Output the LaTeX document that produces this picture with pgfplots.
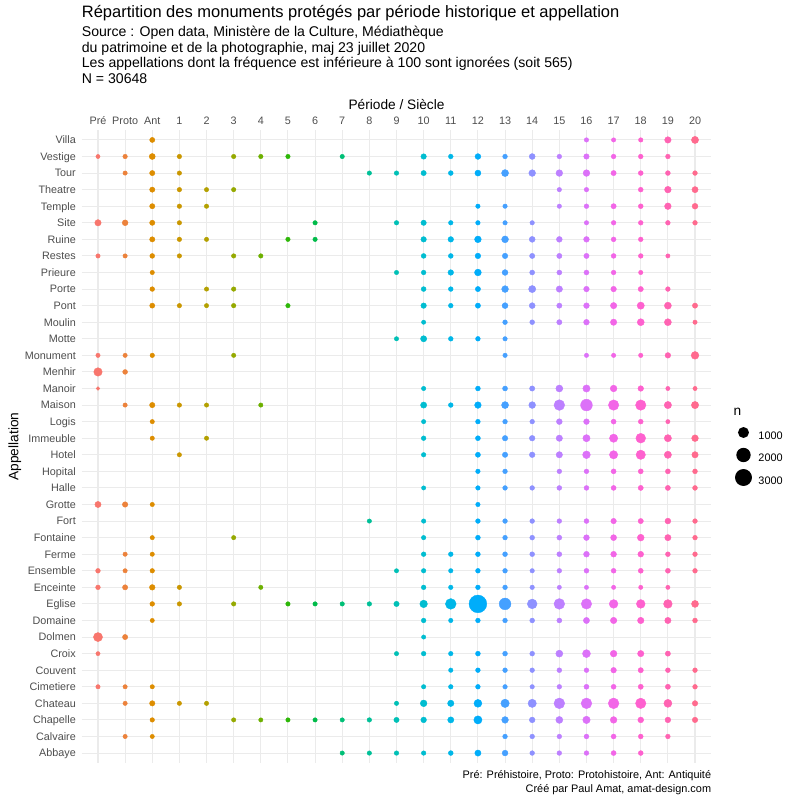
\documentclass[border=0pt]{standalone}
\usepackage{pgfplots}
\pgfplotsset{compat=1.18}
\usepackage{fontspec}
\setmainfont{Liberation Sans}
\definecolor{c0}{HTML}{F8766D}
\definecolor{c1}{HTML}{EC823B}
\definecolor{c2}{HTML}{DD8D00}
\definecolor{c3}{HTML}{CA9700}
\definecolor{c4}{HTML}{B3A000}
\definecolor{c5}{HTML}{95A900}
\definecolor{c6}{HTML}{6DB000}
\definecolor{c7}{HTML}{2DB708}
\definecolor{c8}{HTML}{00BB49}
\definecolor{c9}{HTML}{00BF76}
\definecolor{c10}{HTML}{00C098}
\definecolor{c11}{HTML}{00C0B6}
\definecolor{c12}{HTML}{00BDD0}
\definecolor{c13}{HTML}{00B7E8}
\definecolor{c14}{HTML}{00ADFA}
\definecolor{c15}{HTML}{45A0FF}
\definecolor{c16}{HTML}{8E91FF}
\definecolor{c17}{HTML}{BD80FF}
\definecolor{c18}{HTML}{DC71F8}
\definecolor{c19}{HTML}{F266E7}
\definecolor{c20}{HTML}{FE61CF}
\definecolor{c21}{HTML}{FF63B2}
\definecolor{c22}{HTML}{FF6A8E}
\definecolor{tick}{HTML}{4D4D4D}
\definecolor{gridc}{HTML}{EBEBEB}
\pgfplotsset{
  dot/.style={forget plot, scatter, only marks, mark=*,
    scatter/use mapped color={draw=#1, fill=#1},
    visualization depends on={(2.6+15.3*sqrt(\thisrow{n}/3500))/2 \as \rad},
    scatter/@pre marker code/.append style={/tikz/mark size=\rad}},
  legdot/.style={legend image code/.code={%
    \path[draw=none, fill=none, use as bounding box] (-9bp,-7.2bp) rectangle (9bp,14.8bp);
    \fill[black, draw=none] (0bp,3.8bp) circle[radius=#1];}},
}
\begin{document}
\begin{tikzpicture}
\path[use as bounding box] (0,0) rectangle (800bp,800bp);
\begin{axis}[
  at={(81.7bp,37bp)}, anchor=south west,
  width=629.6bp, height=633bp, scale only axis,
  xmin=-0.6, xmax=22.6, ymin=0.4, ymax=38.6,
  xtick={0,...,22},
  xticklabels={Pré,Proto,Ant,1,2,3,4,5,6,7,8,9,10,11,12,13,14,15,16,17,18,19,20},
  ytick={1,...,38},
  yticklabels={Abbaye,Calvaire,Chapelle,Chateau,Cimetiere,Couvent,Croix,Dolmen,Domaine,Eglise,Enceinte,Ensemble,Ferme,Fontaine,Fort,Grotte,Halle,Hopital,Hotel,Immeuble,Logis,Maison,Manoir,Menhir,Monument,Motte,Moulin,Pont,Porte,Prieure,Restes,Ruine,Site,Temple,Theatre,Tour,Vestige,Villa},
  xticklabel pos=upper,
  grid=major, major grid style={draw=gridc, line width=1.07bp},
  axis line style={draw=none}, tick style={draw=none},
  ticklabel style={font=\fontsize{10.8bp}{12bp}\selectfont, text=tick, inner sep=0pt},
  xticklabel style={anchor=base, yshift=5.7bp},
  yticklabel style={anchor=base east, xshift=-5.7bp, yshift=-3.9bp},
  clip=false,
  legend style={draw=none, fill=none, inner sep=0pt, row sep=0.5bp, column sep=6bp,
    at={(1.0365,0.5398)}, anchor=north west,
    font=\fontsize{10.9bp}{12bp}\selectfont, nodes={inner sep=0pt}},
  legend cell align=left,
]
\addlegendimage{legdot=5.49bp}\addlegendentry{1000}
\addlegendimage{legdot=7.18bp}\addlegendentry{2000}
\addlegendimage{legdot=8.48bp}\addlegendentry{3000}

% Pre
\addplot[dot=c0] table {
x y n
0 37 40
0 33 220
0 31 50
0 25 50
0 24 520
0 23 25
0 16 200
0 12 70
0 11 70
0 8 640
0 7 40
0 5 50
};
% Proto
\addplot[dot=c1] table {
x y n
1 37 60
1 36 50
1 33 160
1 31 50
1 25 50
1 24 80
1 22 50
1 16 130
1 13 50
1 12 50
1 11 110
1 8 110
1 5 50
1 4 50
1 2 50
};
% Ant
\addplot[dot=c2] table {
x y n
2 38 100
2 37 180
2 36 110
2 35 110
2 34 110
2 33 110
2 32 110
2 31 80
2 30 50
2 29 70
2 28 100
2 25 60
2 22 120
2 21 50
2 20 50
2 16 50
2 14 50
2 13 50
2 12 60
2 11 140
2 10 70
2 9 45
2 5 50
2 4 120
2 3 60
2 2 45
};
% 1
\addplot[dot=c3] table {
x y n
3 37 60
3 36 55
3 35 60
3 34 60
3 33 55
3 32 60
3 31 55
3 28 55
3 22 55
3 19 50
3 11 55
3 10 55
3 4 50
};
% 2
\addplot[dot=c4] table {
x y n
4 35 50
4 34 55
4 32 50
4 29 50
4 28 50
4 22 50
4 20 50
4 4 50
};
% 3
\addplot[dot=c5] table {
x y n
5 37 55
5 35 55
5 31 55
5 29 60
5 28 60
5 25 50
5 14 50
5 10 55
5 3 50
};
% 4
\addplot[dot=c6] table {
x y n
6 37 55
6 31 55
6 22 50
6 11 50
6 3 45
};
% 5
\addplot[dot=c7] table {
x y n
7 37 55
7 32 55
7 28 55
7 10 55
7 3 50
};
% 6
\addplot[dot=c8] table {
x y n
8 33 55
8 32 55
8 10 55
8 3 50
};
% 7
\addplot[dot=c9] table {
x y n
9 37 55
9 10 55
9 3 50
9 1 50
};
% 8
\addplot[dot=c10] table {
x y n
10 36 55
10 15 50
10 10 60
10 3 60
10 1 55
};
% 9
\addplot[dot=c11] table {
x y n
11 36 60
11 33 60
11 30 50
11 26 50
11 12 45
11 10 120
11 7 50
11 4 50
11 3 110
11 1 60
};
% 10
\addplot[dot=c12] table {
x y n
12 37 130
12 36 110
12 33 120
12 32 130
12 31 80
12 30 70
12 29 80
12 28 130
12 27 45
12 26 200
12 23 50
12 22 200
12 21 50
12 20 70
12 19 60
12 17 45
12 15 55
12 14 55
12 13 70
12 12 60
12 11 70
12 10 380
12 9 70
12 8 45
12 7 70
12 5 55
12 4 260
12 3 150
12 1 60
};
% 11
\addplot[dot=c13] table {
x y n
13 37 70
13 36 80
13 33 60
13 32 140
13 31 80
13 30 140
13 29 70
13 28 70
13 26 70
13 22 70
13 13 70
13 12 55
13 11 60
13 10 1000
13 9 55
13 7 60
13 6 55
13 5 60
13 4 220
13 3 200
13 1 80
};
% 12
\addplot[dot=c14] table {
x y n
14 37 160
14 36 180
14 34 55
14 33 60
14 32 260
14 31 140
14 30 270
14 29 110
14 28 110
14 26 70
14 23 80
14 22 250
14 21 70
14 20 90
14 19 100
14 18 60
14 17 60
14 16 55
14 15 70
14 14 80
14 13 80
14 12 70
14 11 70
14 10 3450
14 9 70
14 7 80
14 6 70
14 5 70
14 4 430
14 3 480
14 1 200
};
% 13
\addplot[dot=c15] table {
x y n
15 37 70
15 36 300
15 34 55
15 33 55
15 32 280
15 31 130
15 30 160
15 29 270
15 28 170
15 27 70
15 26 55
15 25 55
15 23 90
15 22 300
15 21 70
15 20 130
15 19 120
15 18 70
15 17 70
15 15 70
15 14 70
15 13 80
15 12 70
15 11 70
15 10 1260
15 9 70
15 7 80
15 6 70
15 5 60
15 4 520
15 3 260
15 2 70
15 1 160
};
% 14
\addplot[dot=c16] table {
x y n
16 37 170
16 36 260
16 33 55
16 32 170
16 31 110
16 30 90
16 29 320
16 28 170
16 27 80
16 23 110
16 22 270
16 21 70
16 20 140
16 19 140
16 17 70
16 15 70
16 14 80
16 13 80
16 12 55
16 11 60
16 10 780
16 9 80
16 7 80
16 6 70
16 5 55
16 4 500
16 3 150
16 2 70
16 1 70
};
% 15
\addplot[dot=c17] table {
x y n
17 37 70
17 36 260
17 35 55
17 34 55
17 32 160
17 31 110
17 30 90
17 29 220
17 28 110
17 27 110
17 23 300
17 22 1000
17 21 160
17 20 220
17 19 220
17 18 70
17 17 80
17 15 70
17 14 90
17 13 90
17 12 70
17 11 45
17 10 1000
17 9 90
17 7 300
17 6 80
17 5 70
17 4 1000
17 3 300
17 2 70
17 1 70
};
% 16
\addplot[dot=c18] table {
x y n
18 38 55
18 37 130
18 36 260
18 35 60
18 34 70
18 33 55
18 32 150
18 31 110
18 30 90
18 29 140
18 28 150
18 27 150
18 25 50
18 23 330
18 22 1260
18 21 150
18 20 330
18 19 400
18 18 70
18 17 80
18 15 80
18 14 160
18 13 160
18 12 80
18 11 45
18 10 930
18 9 200
18 7 440
18 6 70
18 5 90
18 4 1000
18 3 360
18 2 80
18 1 70
};
% 17
\addplot[dot=c19] table {
x y n
19 38 50
19 37 70
19 36 110
19 34 110
19 33 70
19 32 80
19 31 80
19 30 70
19 29 140
19 28 220
19 27 220
19 25 50
19 23 260
19 22 930
19 21 90
19 20 500
19 19 500
19 18 90
19 17 90
19 15 130
19 14 180
19 13 160
19 12 80
19 11 45
19 10 570
19 9 230
19 7 260
19 6 140
19 5 90
19 4 1000
19 3 260
19 2 90
19 1 90
};
% 18
\addplot[dot=c20] table {
x y n
20 38 55
20 37 70
20 36 80
20 35 80
20 34 80
20 33 70
20 32 70
20 31 70
20 30 50
20 29 110
20 28 330
20 27 300
20 25 55
20 23 140
20 22 930
20 21 80
20 20 780
20 19 700
20 18 90
20 17 100
20 15 110
20 14 270
20 13 160
20 12 90
20 11 45
20 10 570
20 9 230
20 7 220
20 6 110
20 5 100
20 4 930
20 3 160
20 2 80
20 1 80
};
% 19
\addplot[dot=c21] table {
x y n
21 38 230
21 37 70
21 36 80
21 35 250
21 34 250
21 33 70
21 31 45
21 29 70
21 28 300
21 27 300
21 25 140
21 23 45
21 22 340
21 21 45
21 20 330
21 19 330
21 18 90
21 17 100
21 15 160
21 14 210
21 13 80
21 12 90
21 11 45
21 10 560
21 9 210
21 7 110
21 6 80
21 5 100
21 4 450
21 3 150
21 2 70
};
% 20
\addplot[dot=c22] table {
x y n
22 38 320
22 36 70
22 35 200
22 34 160
22 33 70
22 28 110
22 27 50
22 25 400
22 23 45
22 22 340
22 20 260
22 19 220
22 18 80
22 17 80
22 15 70
22 14 70
22 13 70
22 12 70
22 10 300
22 9 80
22 6 70
22 5 70
22 4 130
22 3 130
};
\end{axis}
% titles
\node[anchor=base west, inner sep=0pt, font=\fontsize{16.5bp}{19bp}\selectfont] at (81.7bp,782.7bp) {Répartition des monuments protégés par période historique et appellation};
\begin{scope}[every node/.style={anchor=base west, inner sep=0pt, font=\fontsize{14.1bp}{16bp}\selectfont}]
\node at (81.7bp,763.3bp) {Source : Open data, Ministère de la Culture, Médiathèque};
\node at (81.7bp,747.7bp) {du patrimoine et de la photographie, maj 23 juillet 2020};
\node at (81.7bp,732.1bp) {Les appellations dont la fréquence est inférieure à 100 sont ignorées (soit 565)};
\node at (81.7bp,716.5bp) {N = 30648};
\end{scope}
\node[anchor=base, inner sep=0pt, font=\fontsize{13.7bp}{16bp}\selectfont] at (396.5bp,690bp) {Période / Siècle};
\node[anchor=base, rotate=90, inner sep=0pt, font=\fontsize{13.7bp}{16bp}\selectfont] at (18.3bp,353.5bp) {Appellation};
\node[anchor=base west, inner sep=0pt, font=\fontsize{13.7bp}{16bp}\selectfont] at (733.3bp,384.7bp) {n};
\node[anchor=base east, inner sep=0pt, font=\fontsize{10.9bp}{12bp}\selectfont] at (711.3bp,21.7bp) {Pré: Préhistoire, Proto: Protohistoire, Ant: Antiquité};
\node[anchor=base east, inner sep=0pt, font=\fontsize{10.9bp}{12bp}\selectfont] at (711.3bp,7.7bp) {Créé par Paul Amat, amat-design.com};
\end{tikzpicture}
\end{document}
